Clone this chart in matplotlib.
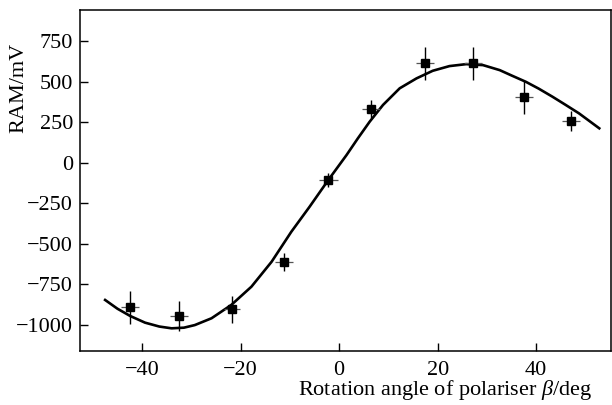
import matplotlib
matplotlib.use("Agg")
import matplotlib.pyplot as plt

plt.rcParams['font.family'] = ['Liberation Serif', 'DejaVu Serif']
plt.rcParams['mathtext.fontset'] = 'custom'
plt.rcParams['mathtext.rm'] = 'Liberation Serif'
plt.rcParams['mathtext.it'] = 'Liberation Serif:italic'

# measured data
beta = [-42.4, -32.5, -21.7, -11.2, -2.2, 6.5, 17.5, 27.2, 37.5, 47.0]
ram = [-891, -945, -904, -610, -106, 330, 614, 614, 404, 258]
ram_err = [103, 95, 82, 55, 41, 55, 103, 103, 103, 62]
beta_err = [1.8, 1.8, 1.6, 1.8, 1.9, 1.8, 1.8, 1.8, 1.8, 1.8]

# fitted curve
fit_beta = [-47.5, -45.0, -42.4, -39.4, -36.5, -34.0, -31.5, -29.3, -25.9, -21.9,
            -17.8, -13.7, -9.7, -6.0, -2.2, 1.5, 3.8, 6.2, 8.9, 12.3, 15.7,
            19.0, 22.4, 25.8, 29.2, 32.6, 35.0, 37.9, 40.5, 43.3,
            46.0, 48.7, 52.8]
fit_ram = [-846, -900, -945, -986, -1010, -1021, -1017, -1001, -959, -877,
           -764, -610, -425, -271, -106, 48, 151, 254, 357, 460, 521,
           568, 597, 609, 603, 572, 539, 500, 458, 408,
           357, 305, 213]

xticks = [-40, -20, 0, 20, 40]
yticks = [-1000, -750, -500, -250, 0, 250, 500, 750]

fig = plt.figure(figsize=(6.12, 4.05), dpi=100)
ax = fig.add_axes([0.1307, 0.1333, 0.867, 0.842])

ax.plot(fit_beta, fit_ram, color='black', lw=1.9, zorder=2,
        solid_joinstyle='round')
ax.errorbar(beta, ram, xerr=beta_err, fmt='none', ecolor='#555555', elinewidth=0.9,
            capsize=0, zorder=3)
ax.errorbar(beta, ram, yerr=ram_err, fmt='none', ecolor='black', elinewidth=1.0,
            capsize=0, zorder=3)
ax.plot(beta, ram, linestyle='none', marker='s', markersize=6.2, color='black', zorder=4)

ax.set_xlim(-52.6, 55.1)
ax.set_ylim(-1161, 943)
ax.set_xticks(xticks)
ax.set_yticks(yticks)
ax.set_xticklabels([str(v).replace('-', '\u2212') for v in xticks])
ax.set_yticklabels([str(v).replace('-', '\u2212') for v in yticks])
ax.tick_params(direction='in', length=5.5, width=1.0, labelsize=16,
               top=False, right=False)
ax.tick_params(axis='x', pad=7)
ax.tick_params(axis='y', pad=5)
for s in ax.spines.values():
    s.set_linewidth(1.1)

ax.set_ylabel('RAM/mV', fontsize=16)
ax.yaxis.set_label_coords(-0.115, 0.773)
ax.yaxis.label.set_va('center')
ax.set_xlabel(r'Rotation angle of polariser $\beta$/deg', fontsize=16)
ax.xaxis.set_label_coords(0.966, -0.129)
ax.xaxis.label.set_ha('right')
ax.xaxis.label.set_va('baseline')

fig.savefig('out.png', dpi=100)
